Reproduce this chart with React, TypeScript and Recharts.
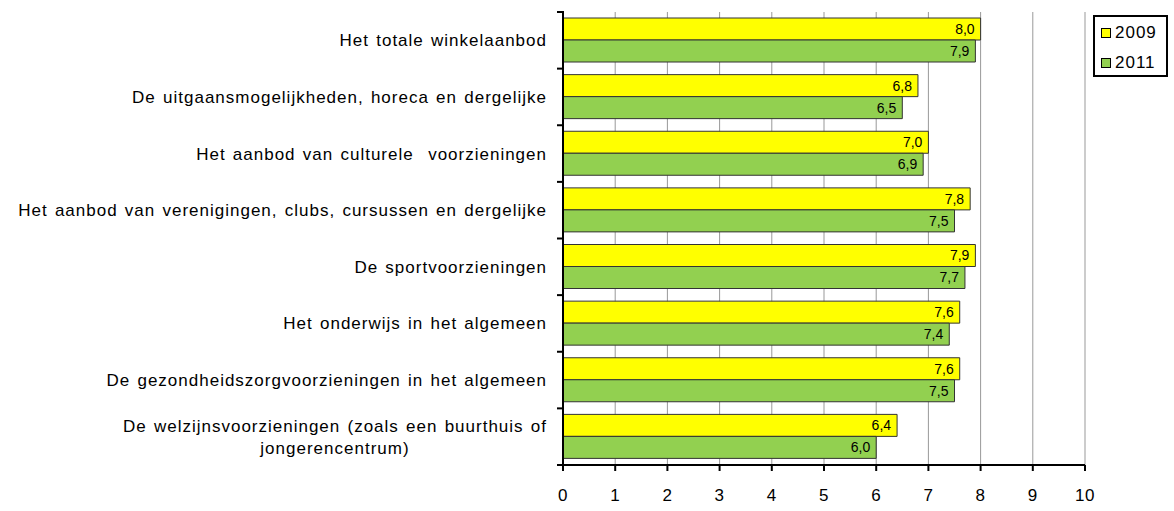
import { BarChart, Bar, XAxis, YAxis, CartesianGrid, LabelList } from 'recharts';

const categories = [
  'Het totale winkelaanbod',
  'De uitgaansmogelijkheden, horeca en dergelijke',
  'Het aanbod van culturele  voorzieningen',
  'Het aanbod van verenigingen, clubs, cursussen en dergelijke',
  'De sportvoorzieningen',
  'Het onderwijs in het algemeen',
  'De gezondheidszorgvoorzieningen in het algemeen',
  'De welzijnsvoorzieningen (zoals een buurthuis of\njongerencentrum)',
];
const values2009 = [8.0, 6.8, 7.0, 7.8, 7.9, 7.6, 7.6, 6.4];
const values2011 = [7.9, 6.5, 6.9, 7.5, 7.7, 7.4, 7.5, 6.0];
const xTicks = [0, 1, 2, 3, 4, 5, 6, 7, 8, 9, 10];

const data = categories.map((name, i) => ({ name, y2009: values2009[i], y2011: values2011[i] }));

const FONT = '"Liberation Sans", Arial, sans-serif';
const W = 1174;
const H = 511;
const TOP = 12;
const BOTTOM = 46;
const XAXIS_H = 30;
const BAND = (H - TOP - BOTTOM) / categories.length;
const LABEL_SIZE = 17;
const LETTER = 1;
const WORD = 1.5;

let ctx: CanvasRenderingContext2D | null = null;
function textWidth(s: string) {
  if (!ctx) ctx = document.createElement('canvas').getContext('2d');
  const spaces = (s.match(/ /g) || []).length;
  if (!ctx) return s.length * LABEL_SIZE * 0.55;
  ctx.font = `${LABEL_SIZE}px ${FONT}`;
  return ctx.measureText(s).width + s.length * LETTER + spaces * WORD;
}

function CategoryTick(props: any) {
  const { x, y, payload, index } = props;
  const lines = String(payload.value).split('\n');
  const tx = x - 8;
  const lh = 22;
  const w0 = textWidth(lines[0]);
  const y0 = y - ((lines.length - 1) * lh) / 2;
  return (
    <g>
      <line x1={x + 2} x2={x + 9} y1={y - BAND / 2} y2={y - BAND / 2} stroke="#000" strokeWidth={2} />
      {index === categories.length - 1 && (
        <line x1={x + 2} x2={x + 9} y1={y + BAND / 2} y2={y + BAND / 2} stroke="#000" strokeWidth={2} />
      )}
      {lines.map((l, i) => (
        <text
          key={i}
          x={i === 0 ? tx : tx - w0 / 2}
          y={y0 + i * lh}
          dy="0.35em"
          textAnchor={i === 0 ? 'end' : 'middle'}
          fontSize={LABEL_SIZE}
          fontFamily={FONT}
          fill="#000"
          letterSpacing={LETTER}
          wordSpacing={WORD}
          style={{ whiteSpace: 'pre' }}
        >
          {l}
        </text>
      ))}
    </g>
  );
}

const legendItems = [
  { label: '2009', color: '#FFFF00' },
  { label: '2011', color: '#92D050' },
];

function LegendBox() {
  return (
    <div
      style={{
        position: 'absolute',
        left: 1093,
        top: 15,
        border: '2px solid #000',
        width: 75,
        height: 62,
        boxSizing: 'border-box',
        padding: '4px 0 0 6px',
        fontFamily: FONT,
        fontSize: 17,
        background: '#fff',
      }}
    >
      {legendItems.map((it) => (
        <div key={it.label} style={{ display: 'flex', alignItems: 'center', height: 24, marginBottom: 6 }}>
          <span
            style={{
              display: 'inline-block',
              width: 8,
              height: 8,
              background: it.color,
              border: '1px solid #000',
              marginRight: 4,
            }}
          />
          <span style={{ letterSpacing: 1 }}>{it.label}</span>
        </div>
      ))}
    </div>
  );
}

const fmt = (v: any) => Number(v).toFixed(1).replace('.', ',');

export default function App() {
  return (
    <div style={{ position: 'absolute', left: 0, top: 0, width: W, height: H, background: '#fff' }}>
      <BarChart
        width={W}
        height={H}
        data={data}
        layout="vertical"
        margin={{ top: TOP, right: 89, bottom: BOTTOM - XAXIS_H, left: 0 }}
        barSize={22}
        barGap={0}
      >
        <CartesianGrid horizontal={false} stroke="#999" strokeWidth={1} />
        <XAxis
          type="number"
          domain={[0, 10]}
          ticks={xTicks}
          interval={0}
          height={XAXIS_H}
          axisLine={{ stroke: '#000', strokeWidth: 2 }}
          tickLine={{ stroke: '#000', strokeWidth: 2 }}
          tickSize={6}
          tickMargin={18}
          tick={{ fontSize: 17, fontFamily: FONT, fill: '#000', letterSpacing: 0.5 }}
        />
        <XAxis
          xAxisId="top"
          orientation="top"
          type="number"
          domain={[0, 10]}
          height={0}
          tick={false}
          tickLine={false}
          axisLine={{ stroke: '#000', strokeWidth: 2 }}
        />
        <YAxis
          type="category"
          dataKey="name"
          width={563}
          interval={0}
          axisLine={{ stroke: '#000', strokeWidth: 2 }}
          tickLine={false}
          tick={<CategoryTick />}
        />
        <YAxis
          yAxisId="right"
          orientation="right"
          type="category"
          dataKey="name"
          width={0}
          tick={false}
          tickLine={false}
          axisLine={{ stroke: '#000', strokeWidth: 2 }}
        />
        <Bar dataKey="y2009" name="2009" fill="#FFFF00" stroke="#333" strokeWidth={1} isAnimationActive={false}>
          <LabelList dataKey="y2009" position="insideRight" offset={6} formatter={fmt} fontSize={14} fontFamily={FONT} fill="#000" />
        </Bar>
        <Bar dataKey="y2011" name="2011" fill="#92D050" stroke="#333" strokeWidth={1} isAnimationActive={false}>
          <LabelList dataKey="y2011" position="insideRight" offset={6} formatter={fmt} fontSize={14} fontFamily={FONT} fill="#000" />
        </Bar>
      </BarChart>
      <LegendBox />
    </div>
  );
}
